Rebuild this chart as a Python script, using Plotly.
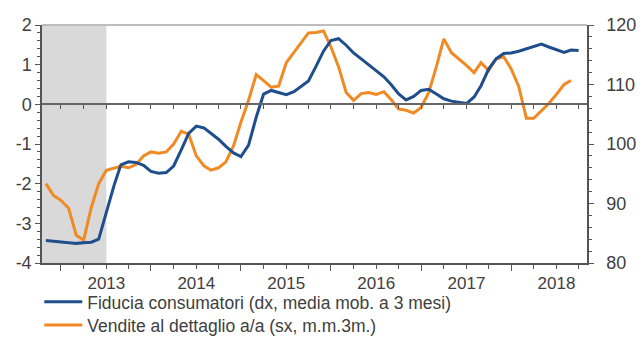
import pandas as pd
import plotly.graph_objects as go

# Monthly observations, May 2012 - Apr 2018
start_month = "2012-05-01"

# Consumer confidence index (right axis, 3-month moving average)
fiducia = [
    83.8, 83.7, 83.6, 83.5, 83.3, 83.4, 83.5, 84.0,            # May-Dec 2012
    88.5, 93.0, 96.5, 97.0, 96.9, 96.4, 95.4, 95.1, 95.2, 96.3, 99.0, 101.8,   # 2013
    103.0, 102.7, 101.8, 100.8, 99.6, 98.5, 97.9, 99.8, 104.5, 108.4, 109.0, 108.6,  # 2014
    108.3, 108.8, 109.6, 110.6, 113.0, 115.6, 117.4, 117.7, 116.6, 115.3, 114.3, 113.3,  # 2015
    112.4, 111.3, 110.0, 108.4, 107.4, 108.0, 109.0, 109.2, 108.4, 107.6, 107.2, 107.0,  # 2016
    106.8, 107.9, 109.8, 112.6, 114.3, 115.2, 115.3, 115.6, 116.0, 116.5, 116.8, 116.3,  # 2017
    115.8, 115.4, 115.8, 115.7,                                 # Jan-Apr 2018
]

# Retail sales, y/y % (left axis, 3-month moving average)
vendite = [
    -2.00, -2.30, -2.42, -2.62, -3.30, -3.42, -2.60, -2.00,    # May-Dec 2012
    -1.66, -1.60, -1.56, -1.60, -1.52, -1.30, -1.20, -1.23, -1.20, -1.00, -0.68, -0.75,  # 2013
    -1.30, -1.55, -1.66, -1.60, -1.45, -1.05, -0.45, 0.10, 0.75, 0.60, 0.43, 0.46,  # 2014
    1.05, 1.31, 1.55, 1.80, 1.81, 1.85, 1.45, 0.95, 0.30, 0.10, 0.27, 0.30,  # 2015
    0.25, 0.32, 0.12, -0.12, -0.15, -0.22, -0.08, 0.30, 0.95, 1.65, 1.30, 1.15,  # 2016
    0.98, 0.80, 1.05, 0.85, 1.15, 1.20, 0.90, 0.45, -0.35, -0.35, -0.15, 0.02,  # 2017
    0.25, 0.50, 0.60,                                           # Jan-Mar 2018
]

dates_fid = pd.date_range(start_month, periods=len(fiducia), freq="MS")
dates_ven = pd.date_range(start_month, periods=len(vendite), freq="MS")

left_ticks = [-4, -3, -2, -1, 0, 1, 2]
left_labels = ["-4", "-3", "-2", "-1", "0", "1", "2"]
right_ticks = [80, 90, 100, 110, 120]

x_range = ["2012-04-15", "2018-05-05"]
recession_end = "2013-01-01"

BLUE = "#1f4e8c"
ORANGE = "#f08a24"
AXIS = "#555555"
TEXT = "#404040"
FONT = "Liberation Sans"

fig = go.Figure()

fig.add_trace(go.Scatter(
    x=dates_fid, y=fiducia, yaxis="y2", mode="lines",
    name="Fiducia consumatori (dx, media mob. a 3 mesi)",
    line=dict(color=BLUE, width=3), legend="legend",
))
fig.add_trace(go.Scatter(
    x=dates_ven, y=vendite, yaxis="y", mode="lines",
    name="Vendite al dettaglio a/a (sx, m.m.3m.)",
    line=dict(color=ORANGE, width=3), legend="legend2",
))
# empty traces so the helper axes get drawn
fig.add_trace(go.Scatter(x=[None], y=[None], xaxis="x2", showlegend=False, hoverinfo="skip"))
fig.add_trace(go.Scatter(x=[None], y=[None], xaxis="x3", showlegend=False, hoverinfo="skip"))

# shaded period
fig.add_shape(type="rect", xref="x", yref="paper", x0=x_range[0], x1=recession_end,
              y0=0, y1=1, fillcolor="#d9d9d9", line=dict(width=0), layer="below")
# top border
fig.add_shape(type="line", xref="paper", yref="paper", x0=0, x1=1, y0=1, y1=1,
              line=dict(color="#bdbdbd", width=2))

legend_style = dict(x=-0.005, xanchor="left", yanchor="top",
                    font=dict(size=17.5, color=TEXT), bgcolor="rgba(0,0,0,0)",
                    itemwidth=38)

fig.update_layout(
    width=640, height=349,
    margin=dict(l=42, r=53, t=25, b=86, autoexpand=False),
    paper_bgcolor="white", plot_bgcolor="white",
    font=dict(family=FONT, size=17, color=TEXT),
    showlegend=True,
    legend=dict(y=-0.088, **legend_style),
    legend2=dict(y=-0.185, **legend_style),
    xaxis=dict(
        type="date", range=x_range,
        tick0="2013-01-01", dtick="M12", tickformat="%Y",
        ticks="outside", ticklen=4, tickcolor=AXIS, tickwidth=1,
        minor=dict(dtick="M3", tick0="2013-01-01", ticks="outside", ticklen=4, tickcolor=AXIS),
        showline=True, linecolor=AXIS, linewidth=1.5,
        showgrid=False, zeroline=False,
        tickfont=dict(size=17, color=TEXT),
    ),
    # longer marks at mid-year
    xaxis3=dict(
        type="date", range=x_range, overlaying="x", anchor="y", side="bottom",
        tickvals=pd.date_range("2012-07-01", "2017-07-01", freq="12MS"),
        showticklabels=False, ticks="outside", ticklen=7, tickcolor=AXIS,
        showline=False, showgrid=False, zeroline=False,
    ),
    # tick marks along the zero line
    xaxis2=dict(
        type="date", range=x_range, overlaying="x", anchor="free", position=4 / 6,
        side="bottom", tick0="2013-01-01", dtick="M3",
        showticklabels=False, ticks="outside", ticklen=4, tickcolor=AXIS,
        showline=True, linecolor="#666666", linewidth=1.5,
        showgrid=False, zeroline=False,
    ),
    yaxis=dict(
        range=[-4, 2], tickvals=left_ticks, ticktext=left_labels,
        ticks="outside", ticklen=5, tickcolor=AXIS,
        minor=dict(dtick=0.2, ticks="outside", ticklen=3, tickcolor=AXIS),
        showline=True, linecolor=AXIS, linewidth=1.5,
        showgrid=False, zeroline=False,
        tickfont=dict(size=18, color=TEXT),
    ),
    yaxis2=dict(
        range=[80, 120], tickvals=right_ticks, overlaying="y", side="right", anchor="x",
        ticks="outside", ticklen=5, tickcolor=AXIS,
        minor=dict(dtick=2, ticks="outside", ticklen=3, tickcolor=AXIS),
        showline=True, linecolor=AXIS, linewidth=1.5,
        showgrid=False, zeroline=False,
        ticklabelstandoff=9,
        tickfont=dict(size=18, color=TEXT),
    ),
)

fig.write_html("out.html")
